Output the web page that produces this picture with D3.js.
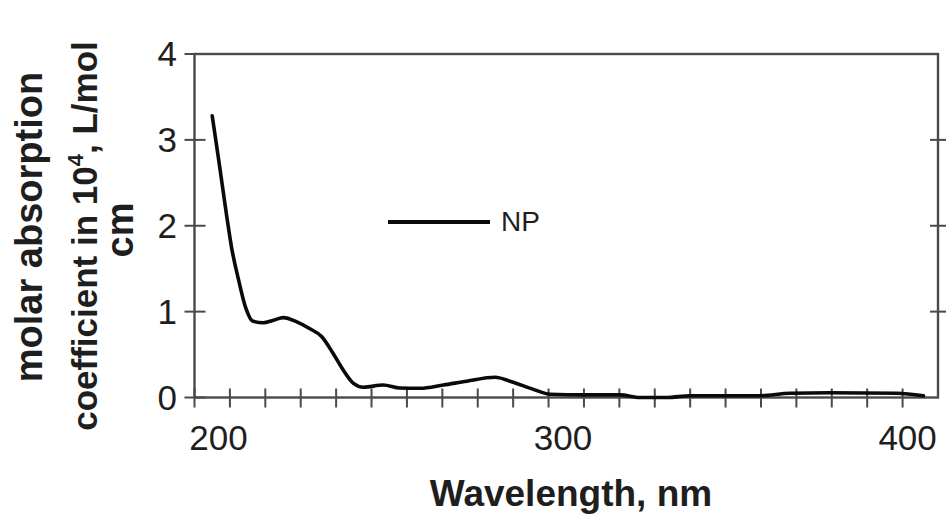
<!DOCTYPE html>
<html>
<head>
<meta charset="utf-8">
<script src="https://cdn.jsdelivr.net/npm/d3@7"></script>
<style>
  html, body { margin: 0; padding: 0; background: #fff; }
  svg { display: block; font-family: "Liberation Sans", Arial, Helvetica, sans-serif; }
</style>
</head>
<body>
<svg id="chart" width="946" height="514"></svg>
<script>
// UV absorption spectrum of NP
const wavelengths = [205, 207, 209, 210.5, 212.5, 214.5, 216.4, 219.4, 222.3,
  225.1, 228.9, 232.6, 235.9, 239.2, 242.0, 244.9, 247.7, 253.3, 258,
  263.7, 270.3, 276.9, 284.9, 289.1, 295.7, 300.4, 309.8, 320.2, 325.8,
  333.4, 340, 359.7, 368.2, 379.5, 398.4, 405.9];
const absorption = [3.28, 2.72, 2.14, 1.74, 1.36, 1.04, 0.89, 0.87, 0.90,
  0.93, 0.88, 0.80, 0.71, 0.51, 0.32, 0.165, 0.12, 0.145, 0.11,
  0.107, 0.145, 0.19, 0.235, 0.19, 0.095, 0.037, 0.03, 0.03, 0.0,
  0.0, 0.02, 0.02, 0.05, 0.055, 0.05, 0.02];
const seriesName = "NP";
const xTickLabels = [200, 300, 400];
const yTickLabels = [0, 1, 2, 3, 4];
const xMinorTicks = d3.range(200, 410, 10);

const svg = d3.select("#chart");
const plot = { left: 194.5, right: 938, top: 54, bottom: 397.5 };

const x = d3.scaleLinear().domain([200, 410]).range([plot.left, plot.right]);
const y = d3.scaleLinear().domain([0, 4]).range([plot.bottom, plot.top]);
// tick numbers sit slightly inward of their ticks
const xLabelPos = d3.scaleLinear().domain([200, 400]).range([x(200) + 24, x(400) + 5]);

const axisColor = "#4a4a4a";
const textColor = "#1e1e1e";

// frame
svg.append("rect")
  .attr("x", plot.left).attr("y", plot.top)
  .attr("width", plot.right - plot.left).attr("height", plot.bottom - plot.top)
  .attr("fill", "none").attr("stroke", axisColor).attr("stroke-width", 2.4);

// bottom axis ticks (cross the axis)
svg.append("g").selectAll("line").data(xMinorTicks).join("line")
  .attr("x1", d => x(d)).attr("x2", d => x(d))
  .attr("y1", plot.bottom - 9).attr("y2", plot.bottom + 10)
  .attr("stroke", axisColor).attr("stroke-width", 2);

// left and right axis ticks
svg.append("g").selectAll("line").data(yTickLabels).join("line")
  .attr("x1", plot.left - 10).attr("x2", plot.left + 11)
  .attr("y1", d => y(d)).attr("y2", d => y(d))
  .attr("stroke", axisColor).attr("stroke-width", 2);
svg.append("g").selectAll("line").data(yTickLabels.filter(d => d > 0 && d < 4)).join("line")
  .attr("x1", plot.right - 8).attr("x2", plot.right + 8)
  .attr("y1", d => y(d)).attr("y2", d => y(d))
  .attr("stroke", axisColor).attr("stroke-width", 2);

// tick labels
svg.append("g").selectAll("text").data(xTickLabels).join("text")
  .attr("x", d => xLabelPos(d)).attr("y", 450)
  .attr("text-anchor", "middle")
  .attr("font-size", 35).attr("fill", textColor)
  .text(d => d);
svg.append("g").selectAll("text").data(yTickLabels).join("text")
  .attr("x", 177).attr("y", d => y(d) + 12)
  .attr("text-anchor", "end")
  .attr("font-size", 35).attr("fill", textColor)
  .text(d => d);

// axis titles
svg.append("text")
  .attr("x", 571).attr("y", 506)
  .attr("text-anchor", "middle")
  .attr("font-size", 37).attr("font-weight", "bold").attr("fill", textColor)
  .text("Wavelength, nm");

const yTitle = svg.append("g").attr("font-weight", "bold").attr("fill", textColor)
  .attr("text-anchor", "middle");
yTitle.append("text")
  .attr("transform", "translate(42,227) rotate(-90)")
  .attr("font-size", 38)
  .text("molar absorption");
const l2 = yTitle.append("text")
  .attr("transform", "translate(97,236) rotate(-90)")
  .attr("font-size", 35);
l2.append("tspan").text("coefficient in 10");
l2.append("tspan").attr("font-size", 22).attr("dy", -14).text("4");
l2.append("tspan").attr("dy", 14).text(", L/mol");
yTitle.append("text")
  .attr("transform", "translate(133,230) rotate(-90)")
  .attr("font-size", 38)
  .text("cm");

// spectrum
const pts = wavelengths.map((w, i) => [w, absorption[i]]);
const line = d3.line().x(d => x(d[0])).y(d => y(d[1])).curve(d3.curveMonotoneX);
svg.append("path")
  .datum(pts)
  .attr("d", line)
  .attr("fill", "none").attr("stroke", "#0a0a0a")
  .attr("stroke-width", 3.6).attr("stroke-linejoin", "round").attr("stroke-linecap", "round");

// legend
svg.append("line")
  .attr("x1", 388).attr("x2", 490).attr("y1", 222).attr("y2", 222)
  .attr("stroke", "#0a0a0a").attr("stroke-width", 4);
svg.append("text")
  .attr("x", 501).attr("y", 231)
  .attr("font-size", 28).attr("fill", textColor)
  .text(seriesName);
</script>
</body>
</html>
